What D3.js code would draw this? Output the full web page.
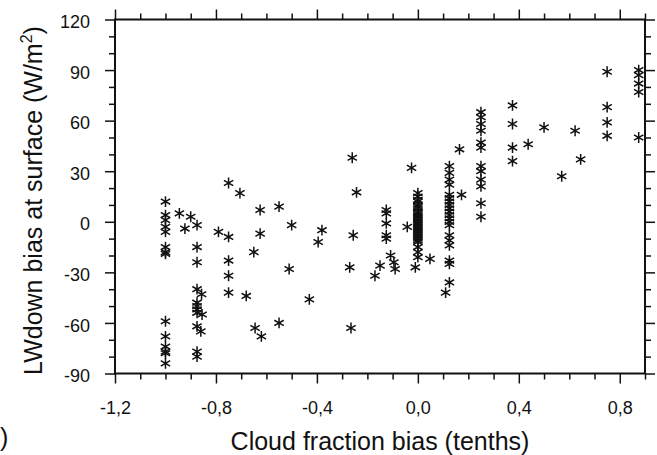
<!DOCTYPE html>
<html>
<head>
<meta charset="utf-8">
<script src="https://cdn.jsdelivr.net/npm/d3@7"></script>
<style>
  html, body { margin: 0; padding: 0; background: #fff; }
  svg { display: block; }
  text { font-family: "Liberation Sans", Arial, Helvetica, sans-serif; fill: #111; }
</style>
</head>
<body>
<svg id="chart" width="657" height="455"></svg>
<script>
// Cloud fraction bias (tenths) for each station/time sample
const cloudBias = [
  -1.0, -1.0, -1.0, -1.0, -1.0, -1.0, -1.0, -1.0, -1.0, -1.0, -1.0, -1.0, -1.0, -1.0,
  -0.945, -0.90, -0.923,
  -0.875, -0.875, -0.875, -0.875, -0.875, -0.875, -0.875, -0.875, -0.875, -0.875, -0.875,
  -0.857, -0.855, -0.86,
  -0.79,
  -0.75, -0.75, -0.75, -0.75, -0.75,
  -0.705, -0.68, -0.65, -0.645, -0.625, -0.625, -0.62, -0.55, -0.55, -0.51, -0.5,
  -0.43, -0.395, -0.38,
  -0.26, -0.243, -0.256, -0.27, -0.265,
  -0.125, -0.125, -0.125, -0.125, -0.125,
  -0.108, -0.095, -0.09, -0.15, -0.17, -0.042, -0.025,
  0.0, 0.0, 0.0, 0.0, 0.0, 0.0, 0.0, 0.0, 0.0, 0.0, 0.0, 0.0, 0.0, 0.0, 0.0,
  0.0, 0.0, 0.0, 0.0, 0.0, 0.0, 0.0, 0.0, 0.0, 0.0, 0.0, 0.0, 0.0, 0.0,
  -0.01, 0.048,
  0.125, 0.125, 0.125, 0.125, 0.125, 0.125, 0.125, 0.125, 0.125, 0.125,
  0.125, 0.125, 0.125, 0.125, 0.125, 0.125, 0.125, 0.125, 0.125, 0.125,
  0.11, 0.165, 0.173,
  0.25, 0.25, 0.25, 0.25, 0.25, 0.25, 0.25, 0.25, 0.25, 0.25, 0.25, 0.25,
  0.375, 0.375, 0.375, 0.375,
  0.437, 0.5, 0.57, 0.623, 0.645,
  0.75, 0.75, 0.75, 0.75,
  0.875, 0.875, 0.875, 0.875, 0.875
];

// Matching downward longwave bias at the surface (W/m2)
const lwdownBias = [
  12, 4, 1, -3, -6, -15, -18, -19, -59, -68, -74, -77, -78, -84,
  5, 3, -4,
  -2, -15, -24, -40, -48, -50, -52, -54, -62, -77, -80,
  -43, -55, -65,
  -6,
  23, -9, -23, -32, -42,
  17, -44, -18, -63, 7, -7, -68, 9, -60, -28, -2,
  -46, -12, -5,
  38, 17.5, -8, -27, -63,
  7, 5, -1, -8, -10,
  -20, -24, -28, -26, -32, -3, 32,
  17, 15, 13, 12, 10, 9, 8, 6, 5, 4, 3, 2, 1, 0, -1,
  -2, -3, -4, -5, -6, -7, -8, -9, -10, -11, -12, -15, -18, -21,
  -27, -22,
  33, 29, 25, 22, 16, 14, 12, 10, 8, 6,
  4, 2, 0, -2, -8, -11, -14, -23, -25, -36,
  -42, 43, 16,
  65, 62, 58, 54, 47, 44, 33, 30, 25, 21, 11, 3,
  69, 58, 44, 36,
  46, 56, 27, 54, 37,
  89, 68, 59, 51,
  90, 87, 82, 77, 50
];

const xTicks = [-1.2, -0.8, -0.4, 0.0, 0.4, 0.8];
const xMinorTicks = [-1.1, -1.0, -0.9, -0.7, -0.6, -0.5, -0.3, -0.2, -0.1, 0.1, 0.2, 0.3, 0.5, 0.6, 0.7, 0.9];
const yTicks = [-90, -60, -30, 0, 30, 60, 90, 120];
const yMinorTicks = [-80, -70, -50, -40, -20, -10, 10, 20, 40, 50, 70, 80, 100, 110];

const svg = d3.select("#chart");
const plotL = 115, plotR = 645, plotT = 19.5, plotB = 373.5;

const x = d3.scaleLinear().domain([-1.2, 0.9]).range([plotL, plotR]);
const y = d3.scaleLinear().domain([-90, 120]).range([plotB, plotT]);

// decimal comma labels, plain hyphen minus
const fmtX = v => (v < -1e-9 ? "-" : "") + Math.abs(v).toFixed(1).replace(".", ",");
const fmtY = v => (v < 0 ? "-" : "") + Math.abs(v);

function styleAxis(g) {
  g.select(".domain").remove();
  g.selectAll(".tick line").attr("stroke", "#111").attr("stroke-width", 1.5);
  g.selectAll("text").attr("font-size", 18).attr("fill", "#111")
    .attr("font-family", "Liberation Sans, Arial, sans-serif");
}

// major and minor ticks, pointing outward on all four sides
const axes = [
  { make: d3.axisBottom, scale: x, pos: `translate(0,${plotB})`, major: xTicks, minor: xMinorTicks, labels: true },
  { make: d3.axisTop, scale: x, pos: `translate(0,${plotT})`, major: xTicks, minor: xMinorTicks, labels: false },
  { make: d3.axisLeft, scale: y, pos: `translate(${plotL},0)`, major: yTicks, minor: yMinorTicks, labels: true },
  { make: d3.axisRight, scale: y, pos: `translate(${plotR},0)`, major: yTicks, minor: yMinorTicks, labels: false }
];

axes.forEach(a => {
  svg.append("g").attr("transform", a.pos)
    .call(a.make(a.scale).tickValues(a.minor).tickSize(6).tickFormat(""))
    .call(styleAxis);
  const fmt = (a.scale === x) ? fmtX : fmtY;
  const g = svg.append("g").attr("transform", a.pos)
    .call(a.make(a.scale).tickValues(a.major).tickSize(10).tickFormat(a.labels ? fmt : ""))
    .call(styleAxis);
  if (a.labels && a.scale === x) {
    g.selectAll("text").attr("y", 40).attr("dy", 0);
  }
  if (a.labels && a.scale === y) {
    g.selectAll("text").attr("x", -25).attr("dy", "0.45em");
  }
});

// plot frame
svg.append("rect")
  .attr("x", plotL).attr("y", plotT)
  .attr("width", plotR - plotL).attr("height", plotB - plotT)
  .attr("fill", "none").attr("stroke", "#111").attr("stroke-width", 2);

// asterisk markers
const r = 5.4;
const c30 = Math.cos(Math.PI / 6), s30 = Math.sin(Math.PI / 6);
const star = `M0,${-r}L0,${r}M${-r * c30},${-r * s30}L${r * c30},${r * s30}M${-r * c30},${r * s30}L${r * c30},${-r * s30}`;

svg.append("g")
  .selectAll("path")
  .data(d3.range(cloudBias.length))
  .join("path")
  .attr("transform", i => `translate(${x(cloudBias[i])},${y(lwdownBias[i])})`)
  .attr("d", star)
  .attr("fill", "none")
  .attr("stroke", "#111")
  .attr("stroke-width", 1.5);

// axis titles
svg.append("text")
  .attr("x", (plotL + plotR) / 2).attr("y", 450)
  .attr("text-anchor", "middle").attr("font-size", 25)
  .text("Cloud fraction bias (tenths)");

const yt = svg.append("text")
  .attr("transform", `translate(42,${(plotT + plotB) / 2 + 4}) rotate(-90)`)
  .attr("text-anchor", "middle").attr("font-size", 25);
yt.append("tspan").text("LWdown bias at surface (W/m");
yt.append("tspan").attr("font-size", 16).attr("dy", -10).text("2");
yt.append("tspan").attr("dy", 10).text(")");

// closing bracket of the panel tag at the lower-left edge
svg.append("text")
  .attr("x", 0).attr("y", 446)
  .attr("font-size", 25)
  .text(")");
</script>
</body>
</html>
